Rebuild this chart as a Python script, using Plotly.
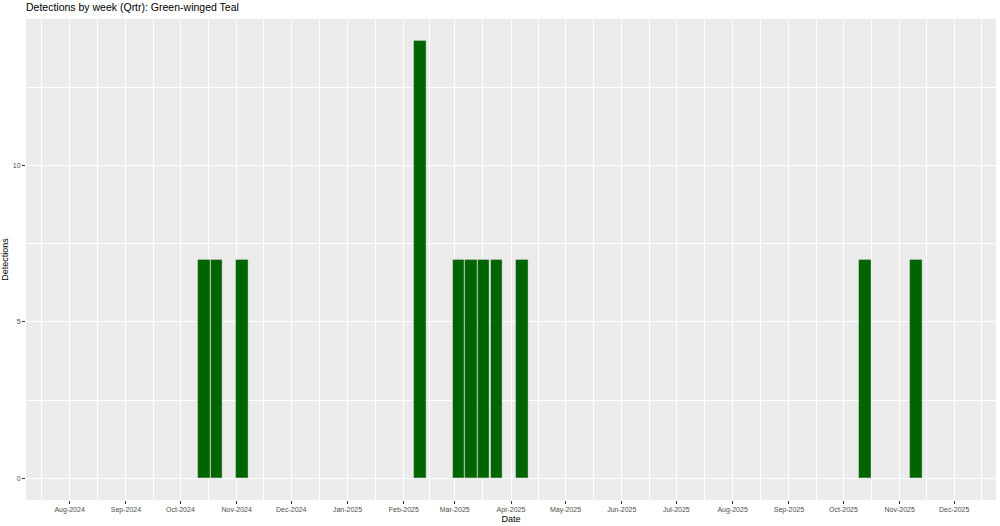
import pandas as pd
import plotly.graph_objects as go

# weekly detections (week start, Monday)
WEEKS = ['2024-10-14', '2024-10-21', '2024-11-04', '2025-02-10',
         '2025-03-03', '2025-03-10', '2025-03-17', '2025-03-24',
         '2025-04-07', '2025-10-13', '2025-11-10']
DETECTIONS = [7, 7, 7, 14, 7, 7, 7, 7, 7, 7, 7]

MONTH_TICKS = ['2024-08-01', '2024-09-01', '2024-10-01', '2024-11-01', '2024-12-01',
               '2025-01-01', '2025-02-01', '2025-03-01', '2025-04-01', '2025-05-01',
               '2025-06-01', '2025-07-01', '2025-08-01', '2025-09-01', '2025-10-01',
               '2025-11-01', '2025-12-01']
MONTH_LABELS = ['Aug-2024', 'Sep-2024', 'Oct-2024', 'Nov-2024', 'Dec-2024',
                'Jan-2025', 'Feb-2025', 'Mar-2025', 'Apr-2025', 'May-2025',
                'Jun-2025', 'Jul-2025', 'Aug-2025', 'Sep-2025', 'Oct-2025',
                'Nov-2025', 'Dec-2025']

FONT = 'Liberation Sans, Arial, sans-serif'

# minor grid halfway between month breaks (ggplot style)
ticks = pd.to_datetime(MONTH_TICKS)
minor = [ticks[0] - (ticks[1] - ticks[0]) / 2]
minor += [ticks[i] + (ticks[i + 1] - ticks[i]) / 2 for i in range(len(ticks) - 1)]
minor += [ticks[-1] + pd.Timedelta(days=15)]
minor = [m.strftime('%Y-%m-%d %H:%M') for m in minor]

bar_width_ms = 0.9 * 7 * 24 * 3600 * 1000

fig = go.Figure()
fig.add_trace(go.Bar(
    x=WEEKS, y=DETECTIONS, width=bar_width_ms,
    marker=dict(color='#006400', line=dict(width=0.3, color='#4a844a')),
    hoverinfo='x+y'
))

fig.update_layout(
    width=1000, height=526,
    margin=dict(l=26, r=4, t=19, b=26, autoexpand=False),
    paper_bgcolor='white', plot_bgcolor='#EBEBEB',
    font=dict(family=FONT, color='#000000'),
    showlegend=False,
    title=dict(text='Detections by week (Qrtr): Green-winged Teal',
               x=0, xref='paper', xanchor='left',
               y=0.994, yref='container', yanchor='top',
               pad=dict(t=0, b=0, l=0, r=0),
               font=dict(size=10.5, color='#000000', family=FONT),
               automargin=False),
    bargap=0,
)

fig.update_xaxes(
    type='date', range=['2024-07-08', '2025-12-24'],
    tickmode='array', tickvals=MONTH_TICKS, ticktext=MONTH_LABELS,
    tickfont=dict(size=7, color='#4D4D4D'),
    ticks='outside', ticklen=3, tickcolor='#333333', tickwidth=1,
    showgrid=True, gridcolor='white', gridwidth=1.1,
    minor=dict(tickmode='array', tickvals=minor, showgrid=True,
               gridcolor='white', gridwidth=0.5, ticks=''),
    zeroline=False, showline=False, automargin=False,
    title=dict(text='Date', font=dict(size=9, color='#000000'), standoff=0),
)
fig.update_yaxes(
    range=[-0.7, 14.7],
    tickmode='array', tickvals=[0, 5, 10], ticktext=['0', '5', '10'],
    tickfont=dict(size=7, color='#4D4D4D'),
    ticks='outside', ticklen=3, tickcolor='#333333', tickwidth=1,
    showgrid=True, gridcolor='white', gridwidth=1.1,
    minor=dict(tickmode='array', tickvals=[2.5, 7.5, 12.5], showgrid=True,
               gridcolor='white', gridwidth=0.5, ticks=''),
    zeroline=False, showline=False, automargin=False,
    title=dict(text='Detections', font=dict(size=9, color='#000000'), standoff=2),
)

# page body has an 8px default margin; drop it so the figure fills the window
fig.write_html('out.html', config={'displayModeBar': False},
               post_script="document.body.style.margin='0';")
